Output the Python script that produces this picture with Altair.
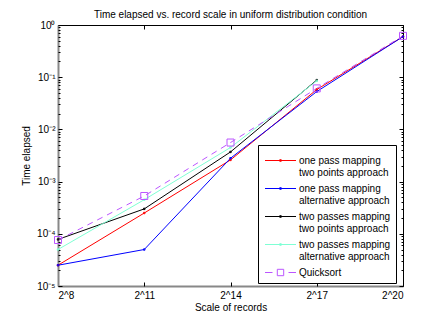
import altair as alt
import pandas as pd

# ---- data ----
scale_exponents = [8, 11, 14, 17, 20]          # x = 2^exponent
series_names = [
    "one pass mapping|two points approach",
    "one pass mapping|alternative approach",
    "two passes mapping|two points approach",
    "two passes mapping|alternative approach",
    "Quicksort",
]
series_colors = ["#ff0000", "#0000ff", "#000000", "#7fffd4", "#bb55ff"]

one_pass_two_points = [2.5e-5, 2.5e-4, 2.6e-3, 0.058, 0.60]
one_pass_alternative = [2.5e-5, 5.0e-5, 2.8e-3, 0.053, 0.60]
two_passes_two_points = [7.8e-5, 3.0e-4, 3.7e-3, 0.088]
two_passes_alternative = [5.0e-5, 4.5e-4, 4.5e-3, 0.085]
quicksort = [7.6e-5, 5.3e-4, 5.6e-3, 0.061, 0.62]

y_major = [1e-5, 1e-4, 1e-3, 1e-2, 1e-1, 1]
y_minor = [k * 10.0 ** e for e in range(-5, 0) for k in range(2, 10)]

all_values = [one_pass_two_points, one_pass_alternative, two_passes_two_points,
              two_passes_alternative, quicksort]
rows = []
for i, (name, vals) in enumerate(zip(series_names, all_values)):
    for x, v in zip(scale_exponents, vals):
        rows.append({"exp": x, "t": v, "series": name, "order": i})
df = pd.DataFrame(rows)

W, H = 345, 261
FONT = "Liberation Sans"

xscale = alt.Scale(domain=[8, 20], nice=False)
yscale = alt.Scale(type="log", domain=[1e-5, 1], nice=False)
cscale = alt.Scale(domain=series_names, range=series_colors)

shape_paths = ["M-1.55,0H1.55M-0.08,-0.08H0.08V0.08H-0.08Z"] * 4 + [
    "M-1.55,0H-0.8M0.8,0H1.55M-0.32,-0.32H0.32V0.32H-0.32Z"]
sscale = alt.Scale(domain=series_names, range=shape_paths)

tick_cond = {"condition": {"test": "abs(log(datum.value)/LN10 - round(log(datum.value)/LN10)) < 1e-6",
                           "value": 4}, "value": 2}

leg = alt.Legend(
    orient="none", legendX=200, legendY=120, title=None,
    labelExpr="split(datum.label, '|')", labelFontSize=10, labelFont=FONT,
    labelColor="black", strokeColor="black", fillColor="white", padding=5,
    symbolSize=400, symbolStrokeWidth=1, symbolOffset=7, labelOffset=8, rowPadding=0,
    symbolFillColor="transparent",
)

base = alt.Chart(df)

X0 = alt.X("exp:Q", scale=xscale, axis=None)
Y0 = alt.Y("t:Q", scale=yscale, axis=None)
C0 = alt.Color("series:N", scale=cscale, legend=leg)

# main lines with label axes
main_x = alt.X("exp:Q", scale=xscale, axis=alt.Axis(
    values=scale_exponents, labelExpr="'2^' + datum.value", title="Scale of records",
    tickSize=0, domainColor="#888888", domainWidth=2, grid=False, labelFontSize=10,
    titleFontSize=10, titleFontWeight="normal", labelPadding=4, titlePadding=2,
    labelFont=FONT, titleFont=FONT, labelColor="black", titleColor="black"))
main_y = alt.Y("t:Q", scale=yscale, axis=alt.Axis(
    values=y_major,
    labelExpr="'10' + ['⁰','⁻¹','⁻²','⁻³','⁻⁴','⁻⁵'][round(-log(datum.value)/LN10)]",
    title="Time elapsed", tickSize=0, domainColor="#888888", domainWidth=2, grid=False,
    labelFontSize=10, titleFontSize=10, titleFontWeight="normal", labelPadding=3,
    titlePadding=5, labelFont=FONT, titleFont=FONT, labelColor="black", titleColor="black"))

solid = base.transform_filter("datum.series != 'Quicksort'").mark_line(strokeWidth=1).encode(
    x=main_x, y=main_y, color=C0, order="exp:Q",
)
dashed = base.transform_filter("datum.series == 'Quicksort'").mark_line(
    strokeWidth=1, strokeDash=[6, 5]).encode(x=X0, y=Y0, color=C0)
dots = base.transform_filter("datum.series != 'Quicksort'").mark_point(
    shape="square", filled=False, size=2, strokeWidth=1, opacity=1).encode(x=X0, y=Y0, color=C0)
squares = base.transform_filter("datum.series == 'Quicksort'").mark_point(
    shape="square", filled=False, size=49, strokeWidth=1, opacity=1).encode(x=X0, y=Y0, color=C0)

# inward ticks on bottom / left edges
ticks_a = base.mark_point(opacity=0).encode(
    x=alt.X("exp:Q", scale=xscale, axis=alt.Axis(
        orient="top", offset=-H, values=scale_exponents, labels=False, domain=False,
        tickSize=4, tickColor="black", title=None, grid=False)),
    y=alt.Y("t:Q", scale=yscale, axis=alt.Axis(
        orient="right", offset=-W, values=y_major + y_minor, labels=False, domain=False,
        tickSize=tick_cond, tickColor="black", title=None, grid=False)),
)
# top / right frame with inward ticks
ticks_b = base.mark_point(opacity=0).encode(
    x=alt.X("exp:Q", scale=xscale, axis=alt.Axis(
        orient="bottom", offset=-H, values=scale_exponents, labels=False, domain=True,
        domainColor="black", domainWidth=1, tickSize=4, tickColor="black", title=None, grid=False)),
    y=alt.Y("t:Q", scale=yscale, axis=alt.Axis(
        orient="left", offset=-W, values=y_major + y_minor, labels=False, domain=True,
        domainColor="black", domainWidth=1, tickSize=tick_cond, tickColor="black",
        title=None, grid=False)),
)

legend_layer = base.mark_point(
    filled=False, strokeWidth=1, size=400, opacity=0).encode(
    x=X0, y=Y0, color=C0,
    shape=alt.Shape("series:N", scale=sscale, legend=leg),
)

chart = alt.layer(legend_layer, solid, dashed, dots, squares, ticks_a, ticks_b).resolve_axis(
    x="independent", y="independent"
).properties(
    width=W, height=H,
    autosize=alt.AutoSizeParams(type="none"),
    padding={"left": 50, "top": 17, "right": 16, "bottom": 28},
    title=alt.TitleParams("Time elapsed vs. record scale in uniform distribution condition",
                          fontSize=10, fontWeight="normal", font=FONT, color="black",
                          anchor="middle", offset=0),
).configure_view(stroke=None).configure(background="white")

chart.save("out.html", embed_options={"renderer": "svg", "actions": False})
